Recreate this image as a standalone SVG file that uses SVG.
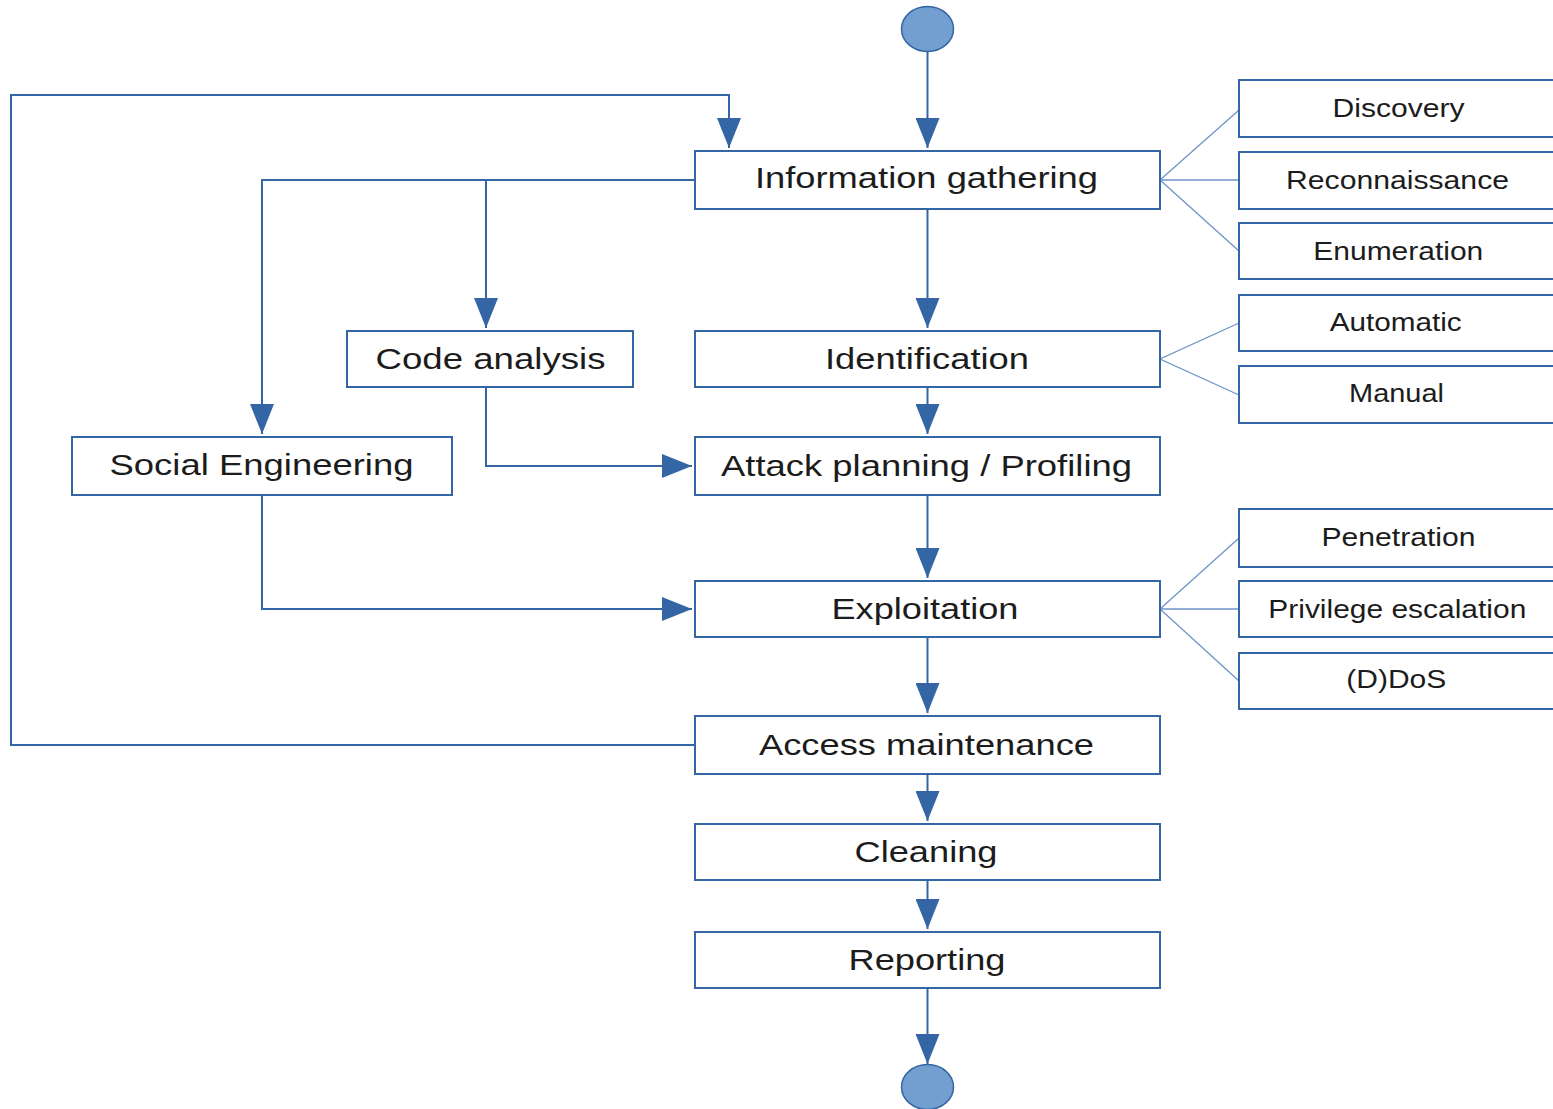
<svg xmlns="http://www.w3.org/2000/svg" width="1553" height="1109" viewBox="0 0 1553 1109">
<style>
.box{fill:#fff;stroke:#3465a4;stroke-width:2}
.lbl{font-family:"Liberation Sans",Arial,sans-serif;font-size:30px;fill:#1c1c1c;text-anchor:middle}
.sl{font-family:"Liberation Sans",Arial,sans-serif;font-size:25px;fill:#1c1c1c;text-anchor:middle}
.flow{fill:none;stroke:#3465a4;stroke-width:2}
.thin{fill:none;stroke:#6f93c8;stroke-width:1.3}
.dot{fill:#729fcf;stroke:#3465a4;stroke-width:1.5}
</style>
<defs>
<marker id="arr" markerUnits="userSpaceOnUse" markerWidth="30" markerHeight="24" refX="30" refY="12" orient="auto" viewBox="0 0 30 24">
<path d="M0,0 L30,12 L0,24 Z" fill="#3465a4"/>
</marker>
</defs>
<rect width="1553" height="1109" fill="#fff"/>
<g id="connectors">
<line class="flow" x1="927.5" y1="52" x2="927.5" y2="148" marker-end="url(#arr)"/>
<line class="flow" x1="927.5" y1="209" x2="927.5" y2="328" marker-end="url(#arr)"/>
<line class="flow" x1="927.5" y1="387" x2="927.5" y2="434" marker-end="url(#arr)"/>
<line class="flow" x1="927.5" y1="495" x2="927.5" y2="578" marker-end="url(#arr)"/>
<line class="flow" x1="927.5" y1="637" x2="927.5" y2="713" marker-end="url(#arr)"/>
<line class="flow" x1="927.5" y1="774" x2="927.5" y2="821" marker-end="url(#arr)"/>
<line class="flow" x1="927.5" y1="880" x2="927.5" y2="929" marker-end="url(#arr)"/>
<line class="flow" x1="927.5" y1="988" x2="927.5" y2="1064" marker-end="url(#arr)"/>
<polyline class="flow" points="695,180 262,180 262,434" marker-end="url(#arr)"/>
<line class="flow" x1="486" y1="180" x2="486" y2="328" marker-end="url(#arr)"/>
<polyline class="flow" points="486,387 486,466 692,466" marker-end="url(#arr)"/>
<polyline class="flow" points="262,495 262,609 692,609" marker-end="url(#arr)"/>
<polyline class="flow" points="695,745 11,745 11,95 729,95 729,148" marker-end="url(#arr)"/>
<polyline class="thin" points="1239,110 1160,180 1239,251"/>
<line class="thin" x1="1160" y1="180" x2="1239" y2="180"/>
<polyline class="thin" points="1239,323 1160,359 1239,395"/>
<polyline class="thin" points="1239,538 1160,609 1239,681"/>
<line class="thin" x1="1160" y1="609" x2="1239" y2="609"/>
</g>
<g id="start"><ellipse class="dot" cx="927.5" cy="29" rx="26" ry="22.5"/></g>
<g id="end"><ellipse class="dot" cx="927.5" cy="1087" rx="26" ry="22.5"/></g>
<g id="info"><rect class="box" x="695" y="151" width="465" height="58"/><text class="lbl" x="926.5" y="188" textLength="343" lengthAdjust="spacingAndGlyphs">Information gathering</text></g>
<g id="ident"><rect class="box" x="695" y="331" width="465" height="56"/><text class="lbl" x="927" y="369" textLength="204" lengthAdjust="spacingAndGlyphs">Identification</text></g>
<g id="attack"><rect class="box" x="695" y="437" width="465" height="58"/><text class="lbl" x="926.5" y="475.5" textLength="411" lengthAdjust="spacingAndGlyphs">Attack planning / Profiling</text></g>
<g id="exploit"><rect class="box" x="695" y="581" width="465" height="56"/><text class="lbl" x="925" y="619" textLength="187" lengthAdjust="spacingAndGlyphs">Exploitation</text></g>
<g id="access"><rect class="box" x="695" y="716" width="465" height="58"/><text class="lbl" x="926.5" y="755" textLength="335" lengthAdjust="spacingAndGlyphs">Access maintenance</text></g>
<g id="cleaning"><rect class="box" x="695" y="824" width="465" height="56"/><text class="lbl" x="926" y="862" textLength="143" lengthAdjust="spacingAndGlyphs">Cleaning</text></g>
<g id="reporting"><rect class="box" x="695" y="932" width="465" height="56"/><text class="lbl" x="927" y="970" textLength="157" lengthAdjust="spacingAndGlyphs">Reporting</text></g>
<g id="code"><rect class="box" x="347" y="331" width="286" height="56"/><text class="lbl" x="490.5" y="369" textLength="230" lengthAdjust="spacingAndGlyphs">Code analysis</text></g>
<g id="social"><rect class="box" x="72" y="437" width="380" height="58"/><text class="lbl" x="261.5" y="474.5" textLength="304" lengthAdjust="spacingAndGlyphs">Social Engineering</text></g>
<g id="discovery"><rect class="box" x="1239" y="80" width="320" height="57"/><text class="sl" x="1398.5" y="117" textLength="132" lengthAdjust="spacingAndGlyphs">Discovery</text></g>
<g id="recon"><rect class="box" x="1239" y="152" width="320" height="57"/><text class="sl" x="1397.5" y="188.5" textLength="223" lengthAdjust="spacingAndGlyphs">Reconnaissance</text></g>
<g id="enum"><rect class="box" x="1239" y="223" width="320" height="56"/><text class="sl" x="1398.3" y="260" textLength="170" lengthAdjust="spacingAndGlyphs">Enumeration</text></g>
<g id="auto"><rect class="box" x="1239" y="295" width="320" height="56"/><text class="sl" x="1395.7" y="330.5" textLength="132" lengthAdjust="spacingAndGlyphs">Automatic</text></g>
<g id="manual"><rect class="box" x="1239" y="366" width="320" height="57"/><text class="sl" x="1396.5" y="402" textLength="95" lengthAdjust="spacingAndGlyphs">Manual</text></g>
<g id="penetration"><rect class="box" x="1239" y="509" width="320" height="58"/><text class="sl" x="1398.5" y="546" textLength="154" lengthAdjust="spacingAndGlyphs">Penetration</text></g>
<g id="privesc"><rect class="box" x="1239" y="581" width="320" height="56"/><text class="sl" x="1397.3" y="618" textLength="258" lengthAdjust="spacingAndGlyphs">Privilege escalation</text></g>
<g id="ddos"><rect class="box" x="1239" y="653" width="320" height="56"/><text class="sl" x="1396.3" y="688" textLength="100" lengthAdjust="spacingAndGlyphs">(D)DoS</text></g>
</svg>
